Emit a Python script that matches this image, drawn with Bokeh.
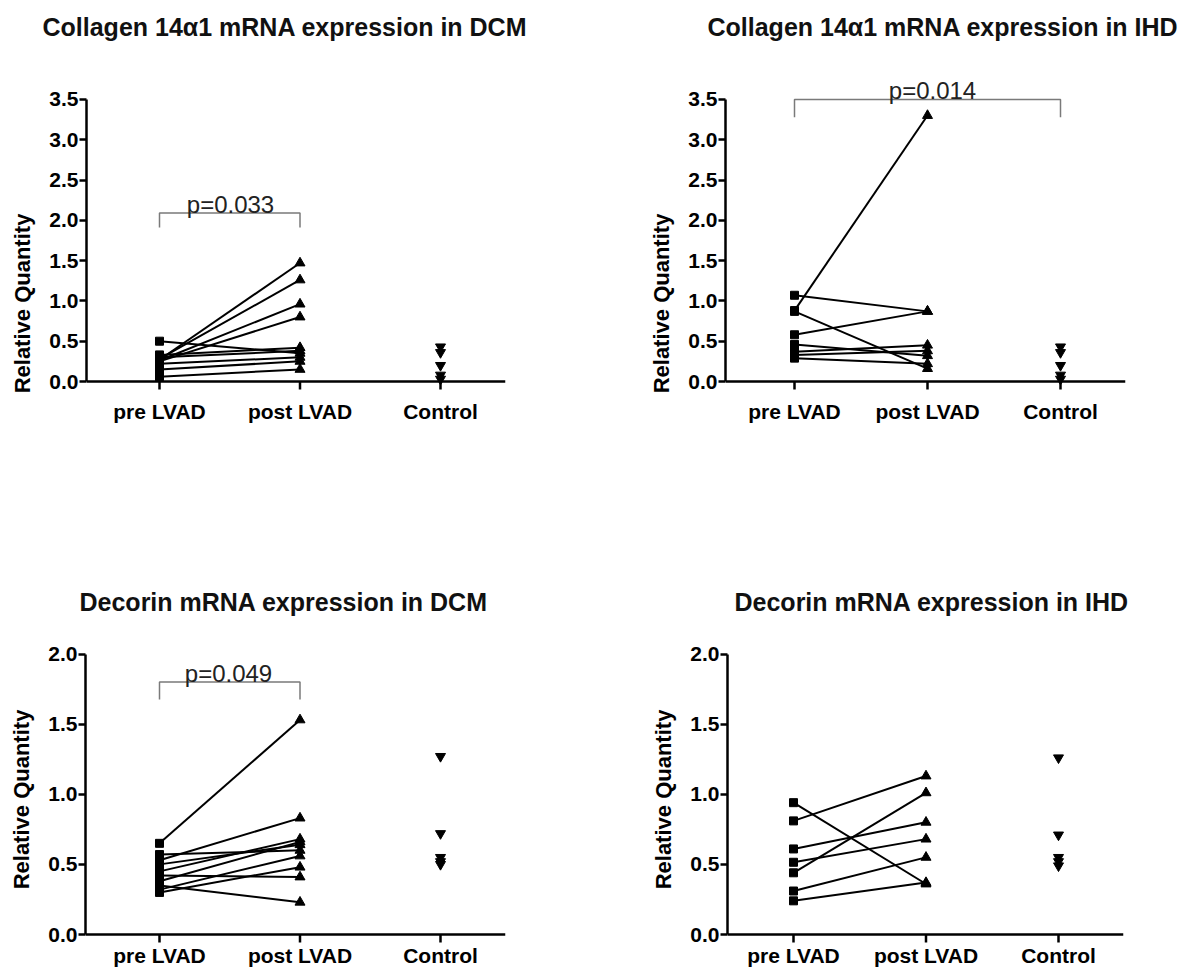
from bokeh.plotting import figure
from bokeh.layouts import column, row
from bokeh.models import FixedTicker, PrintfTickFormatter, Span, Label, Range1d
from bokeh.embed import file_html
from bokeh.resources import INLINE
from bokeh.core.properties import value

# ---------------- data ----------------
categories = ["pre LVAD", "post LVAD", "Control"]
cat_pos = [1, 2, 3]

titles = [
    "Collagen 14\u03b11 mRNA expression in DCM",
    "Collagen 14\u03b11 mRNA expression in IHD",
    "Decorin mRNA expression in DCM",
    "Decorin mRNA expression in IHD",
]
p_labels = ["p=0.033", "p=0.014", "p=0.049", None]

collagen_ticks = [0.0, 0.5, 1.0, 1.5, 2.0, 2.5, 3.0, 3.5]
decorin_ticks = [0.0, 0.5, 1.0, 1.5, 2.0]

col_dcm_pre = [0.50, 0.27, 0.28, 0.26, 0.25, 0.33, 0.30, 0.22, 0.15, 0.06]
col_dcm_post = [0.35, 1.47, 1.26, 0.96, 0.80, 0.42, 0.38, 0.30, 0.25, 0.15]
col_dcm_ctrl = [0.43, 0.36, 0.20, 0.08, 0.03]

col_ihd_pre = [1.07, 0.88, 0.87, 0.58, 0.46, 0.37, 0.33, 0.29]
col_ihd_post = [0.87, 3.30, 0.16, 0.87, 0.32, 0.45, 0.38, 0.22]
col_ihd_ctrl = [0.43, 0.36, 0.20, 0.08, 0.03]

dec_dcm_pre = [0.65, 0.53, 0.57, 0.50, 0.45, 0.42, 0.38, 0.35, 0.32, 0.30]
dec_dcm_post = [1.53, 0.83, 0.60, 0.64, 0.68, 0.41, 0.66, 0.23, 0.56, 0.48]
dec_dcm_ctrl = [1.27, 0.72, 0.55, 0.52, 0.50]

dec_ihd_pre = [0.94, 0.81, 0.61, 0.515, 0.44, 0.31, 0.24]
dec_ihd_post = [0.36, 1.13, 0.80, 0.68, 1.01, 0.55, 0.37]
dec_ihd_ctrl = [1.26, 0.71, 0.55, 0.52, 0.49]

# significance brackets: (from category, to category, top value, tick bottom value)
brackets = [(1, 2, 2.09, 1.91), (1, 3, 3.50, 3.28), (1, 2, 1.80, 1.675), None]

# ---------------- layout (page pixels) ----------------
FONT = "Liberation Sans"
geoms = [
    dict(fig_x=0, fig_y=0, width=597, height=560, axis_x=86, frame_r=505, frame_t=46,
         y0=381, ppu=80.6, pre_x=159, spacing=140.5, cat_b=30,
         title_left=42, title_standoff=11, p_c=230, p_b=204),
    dict(fig_x=597, fig_y=0, width=598, height=560, axis_x=725, frame_r=1125, frame_t=46,
         y0=381, ppu=80.6, pre_x=794, spacing=133, cat_b=30,
         title_left=707, title_standoff=11, p_c=932, p_b=90),
    dict(fig_x=0, fig_y=560, width=597, height=408, axis_x=85, frame_r=505, frame_t=630,
         y0=934, ppu=140.25, pre_x=159, spacing=140.5, cat_b=21,
         title_left=79, title_standoff=29, p_c=228, p_b=673),
    dict(fig_x=597, fig_y=560, width=598, height=408, axis_x=727, frame_r=1123, frame_t=630,
         y0=934, ppu=140.25, pre_x=793, spacing=132.5, cat_b=21,
         title_left=734, title_standoff=29, p_c=0, p_b=0),
]


def make_panel(g, title, pre, post, ctrl, yticks, bracket, ptext):
    sp, ppu = g["spacing"], g["ppu"]
    x0 = 1 - (g["pre_x"] - g["axis_x"]) / sp
    x1 = x0 + (g["frame_r"] - g["axis_x"]) / sp
    y1 = (g["y0"] - g["frame_t"]) / ppu
    y0 = -(g["fig_y"] + g["height"] - g["y0"]) / ppu

    def px2x(px):
        return x0 + (px - g["axis_x"]) / sp

    def px2y(py):
        return (g["y0"] - py) / ppu

    p = figure(width=g["width"], height=g["height"],
               x_range=Range1d(x0, x1), y_range=Range1d(y0, y1),
               x_axis_location=None, y_axis_location="left",
               toolbar_location=None, output_backend="svg",
               min_border_left=g["axis_x"] - g["fig_x"],
               min_border_right=g["fig_x"] + g["width"] - g["frame_r"],
               min_border_top=g["frame_t"] - g["fig_y"],
               min_border_bottom=0)
    p.outline_line_color = None
    p.background_fill_color = "white"
    p.border_fill_color = "white"
    p.xgrid.visible = False
    p.ygrid.visible = False

    p.title.text = title
    p.title.align = "left"
    p.title.offset = g["title_left"] - g["axis_x"]
    p.title.standoff = g["title_standoff"]
    p.title.text_font = FONT
    p.title.text_font_size = "25px"
    p.title.text_font_style = "bold"
    p.title.text_color = "#111111"

    ax = p.yaxis[0]
    ax.ticker = FixedTicker(ticks=yticks)
    ax.formatter = PrintfTickFormatter(format="%.1f")
    ax.bounds = (0, yticks[-1])
    ax.axis_line_width = 2.5
    ax.axis_line_color = "black"
    ax.major_tick_line_width = 2.5
    ax.major_tick_line_color = "black"
    ax.major_tick_in = 0
    ax.major_tick_out = 7
    ax.minor_tick_line_color = None
    ax.major_label_text_font = FONT
    ax.major_label_text_font_size = "21px"
    ax.major_label_text_font_style = "bold"
    ax.major_label_text_color = "black"
    ax.major_label_standoff = 1
    ax.axis_label = "Relative Quantity"
    ax.axis_label_text_font = FONT
    ax.axis_label_text_font_size = "22px"
    ax.axis_label_text_font_style = "bold"
    ax.axis_label_text_color = "black"
    ax.axis_label_standoff = 11

    # x axis drawn at y = 0
    p.add_layout(Span(location=0, dimension="width", line_color="black", line_width=2.5))
    p.segment(x0=cat_pos, y0=[0] * 3, x1=cat_pos, y1=[-8 / ppu] * 3,
              line_color="black", line_width=2.5)
    p.text(x=cat_pos, y=[px2y(g["y0"] + g["cat_b"])] * 3, text=categories,
           text_align="center", text_baseline="alphabetic",
           text_font=value(FONT), text_font_size="21px", text_font_style="bold",
           text_color="black")

    # paired lines
    n = len(pre)
    p.segment(x0=[cat_pos[0]] * n, y0=pre, x1=[cat_pos[1]] * n, y1=post,
              line_color="black", line_width=2)
    p.scatter(x=[cat_pos[0]] * n, y=pre, marker="square", size=8, color="black")
    p.scatter(x=[cat_pos[1]] * n, y=post, marker="triangle", size=10, color="black")
    p.scatter(x=[cat_pos[2]] * len(ctrl), y=ctrl, marker="inverted_triangle", size=10,
              color="black")

    if bracket is not None:
        a, b, top, bot = bracket
        p.line(x=[a, a, b, b], y=[bot, top, top, bot], line_color="#7a7a7a", line_width=1.5)
    if ptext is not None:
        p.add_layout(Label(x=px2x(g["p_c"]), y=px2y(g["p_b"]), text=ptext,
                           text_align="center", text_baseline="alphabetic",
                           text_font=FONT, text_font_size="24px", text_color="#222222"))
    return p


series = [
    (col_dcm_pre, col_dcm_post, col_dcm_ctrl, collagen_ticks),
    (col_ihd_pre, col_ihd_post, col_ihd_ctrl, collagen_ticks),
    (dec_dcm_pre, dec_dcm_post, dec_dcm_ctrl, decorin_ticks),
    (dec_ihd_pre, dec_ihd_post, dec_ihd_ctrl, decorin_ticks),
]

figs = []
for i in range(4):
    pre, post, ctrl, ticks = series[i]
    figs.append(make_panel(geoms[i], titles[i], pre, post, ctrl, ticks, brackets[i], p_labels[i]))

layout = column(row(figs[0], figs[1]), row(figs[2], figs[3]))

open("out.html", "w").write(file_html(layout, INLINE))
